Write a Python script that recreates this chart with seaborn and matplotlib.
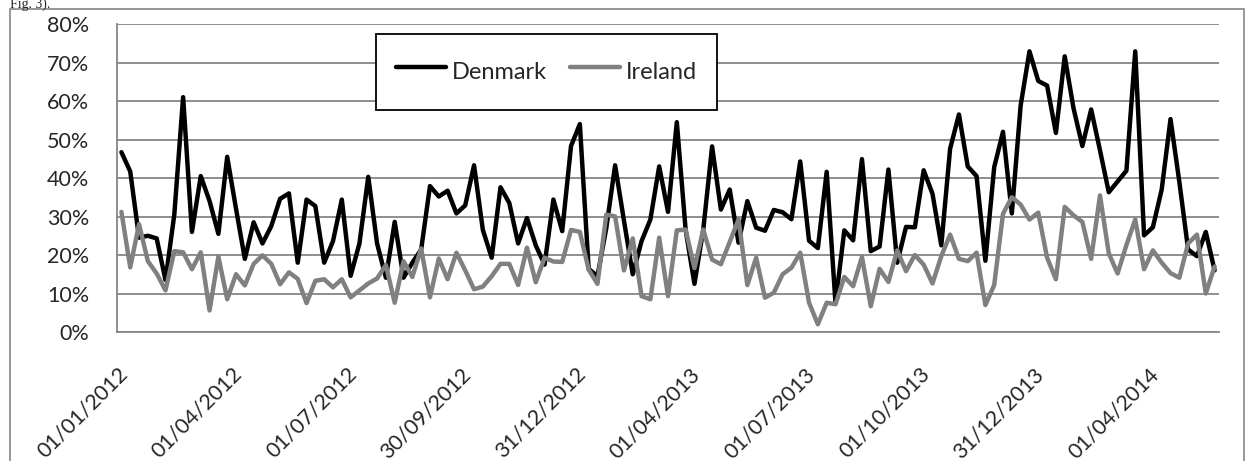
import pandas as pd
import seaborn as sns
import matplotlib.pyplot as plt
from matplotlib.lines import Line2D
from matplotlib.patches import Rectangle

# weekly shares (%)
denmark = [46.7, 41.7, 24.5, 25.0, 24.3, 13.5, 30.5, 61.0, 26.0, 40.5,
           34.0, 25.5, 45.5, 32.0, 19.0, 28.5, 23.0, 27.5, 34.6, 36.0,
           18.0, 34.4, 32.7, 18.0, 23.6, 34.4, 14.6, 23.0, 40.3, 23.0,
           14.1, 28.6, 14.1, 18.0, 21.4, 37.9, 35.2, 36.7, 30.8, 32.9,
           43.3, 26.5, 19.3, 37.6, 33.5, 23.0, 29.6, 22.5, 17.5, 34.4,
           26.2, 48.3, 54.0, 16.4, 14.5, 27.0, 43.3, 29.0, 15.0, 23.6,
           29.2, 43.0, 31.2, 54.5, 26.5, 12.5, 26.6, 48.2, 31.8, 37.0,
           23.2, 34.0, 27.1, 26.3, 31.7, 31.1, 29.3, 44.3, 23.7, 21.8,
           41.6, 7.5, 26.4, 23.8, 44.9, 21.0, 22.2, 42.2, 18.0, 27.3,
           27.2, 42.0, 35.9, 22.5, 47.6, 56.5, 43.0, 40.5, 18.5, 42.8,
           52.0, 30.8, 58.8, 72.9, 65.2, 64.0, 51.7, 71.6, 58.1, 48.3,
           57.8, 47.2, 36.3, 39.1, 41.9, 72.9, 25.1, 27.2, 37.0, 55.3,
           39.0, 21.4, 19.7, 26.0, 16.0]
ireland = [31.2, 16.8, 28.0, 18.4, 15.2, 10.8, 21.0, 20.7, 16.3, 20.7,
           5.6, 19.6, 8.5, 15.0, 12.1, 17.7, 19.9, 17.7, 12.4, 15.5,
           13.8, 7.5, 13.3, 13.7, 11.6, 13.7, 9.0, 10.8, 12.6, 13.9,
           17.4, 7.6, 18.4, 14.3, 21.7, 9.0, 19.1, 13.7, 20.6, 16.0,
           11.1, 11.8, 14.5, 17.7, 17.7, 12.2, 21.9, 12.9, 19.3, 18.3,
           18.2, 26.5, 26.0, 16.2, 12.5, 30.5, 30.0, 16.0, 24.3, 9.3,
           8.5, 24.5, 9.3, 26.4, 26.6, 16.6, 26.6, 18.8, 17.6, 23.4,
           29.2, 12.2, 19.3, 8.9, 10.2, 15.0, 16.7, 20.6, 7.6, 2.0,
           7.6, 7.2, 14.3, 11.9, 19.5, 6.7, 16.4, 13.0, 21.2, 15.8,
           20.0, 17.5, 12.6, 19.7, 25.3, 19.0, 18.4, 20.6, 7.0, 12.2,
           30.7, 35.0, 33.1, 29.2, 31.0, 19.3, 13.7, 32.5, 30.3, 28.6,
           19.0, 35.5, 20.4, 15.2, 22.6, 29.2, 16.3, 21.2, 18.0, 15.3,
           14.1, 23.0, 25.3, 10.0, 17.0]
tick_labels = ['01/01/2012', '01/04/2012', '01/07/2012', '30/09/2012', '31/12/2012',
               '01/04/2013', '01/07/2013', '01/10/2013', '31/12/2013', '01/04/2014']
countries = ['Denmark', 'Ireland']
colors = {'Denmark': 'black', 'Ireland': '#808080'}

weeks = list(range(len(denmark)))
df = pd.DataFrame({'week': weeks * 2,
                   'share': denmark + ireland,
                   'country': ['Denmark'] * len(denmark) + ['Ireland'] * len(ireland)})

sns.set_style('white')
plt.rcParams['font.family'] = ['Lato', 'DejaVu Sans']

W, H = 1247, 461
lw = 3.2
fig = plt.figure(figsize=(W / 100, H / 100), dpi=100)
ax = fig.add_axes([117 / W, 1 - 332 / H, (1219 - 117) / W, (332 - 24) / H])

sns.lineplot(data=df, x='week', y='share', hue='country', hue_order=countries,
             palette=colors, linewidth=lw, estimator=None, legend=False, ax=ax)
for ln in ax.lines:
    ln.set_solid_capstyle('round')
    ln.set_solid_joinstyle('round')

grid_c = '#868686'
ax.set_xlim(-0.5, len(denmark) - 0.5)
ax.set_ylim(0, 80)
ax.set_yticks(range(0, 81, 10))
ax.set_yticklabels([f'{v}%' for v in range(0, 81, 10)])
ax.set_xticks([-0.5 + 13 * k for k in range(len(tick_labels))])
ax.set_xticklabels(tick_labels, rotation=45, ha='right', va='top', rotation_mode='anchor')
ax.yaxis.grid(True, color=grid_c, linewidth=1.3)
ax.set_axisbelow(True)
ax.set_xlabel('')
ax.set_ylabel('')
for s in ['top', 'right']:
    ax.spines[s].set_visible(False)
for s in ['left', 'bottom']:
    ax.spines[s].set_color(grid_c)
    ax.spines[s].set_linewidth(1.3)
ax.tick_params(axis='y', length=8, width=1.3, color=grid_c, pad=12, labelsize=15.5)
ax.tick_params(axis='x', length=9, width=1.3, color=grid_c, pad=14, labelsize=15.5)

handles = [Line2D([], [], color=colors[c], linewidth=lw, solid_capstyle='round') for c in countries]
ax.legend(handles, countries, loc='upper left', bbox_to_anchor=(376 / W, 1 - 34 / H),
          bbox_transform=fig.transFigure, ncol=2, fontsize=17, frameon=True, fancybox=False,
          edgecolor='black', framealpha=1, borderpad=0.85, borderaxespad=0,
          handlelength=2.1, handleheight=1.95, handletextpad=0.25, columnspacing=1.0)
ax.get_legend().get_frame().set_linewidth(1.3)

# chart area border and the caption text above it
fig.patches.append(Rectangle((10 / W, -0.05), (1244 - 10) / W, 1.05 - 9 / H,
                             transform=fig.transFigure, fill=False,
                             edgecolor=grid_c, linewidth=1.2))
fig.text(10 / W, 1 - 8 / H, 'Fig. 3).', family='Liberation Serif', fontsize=10, va='baseline')

fig.savefig('out.png', dpi=100)
